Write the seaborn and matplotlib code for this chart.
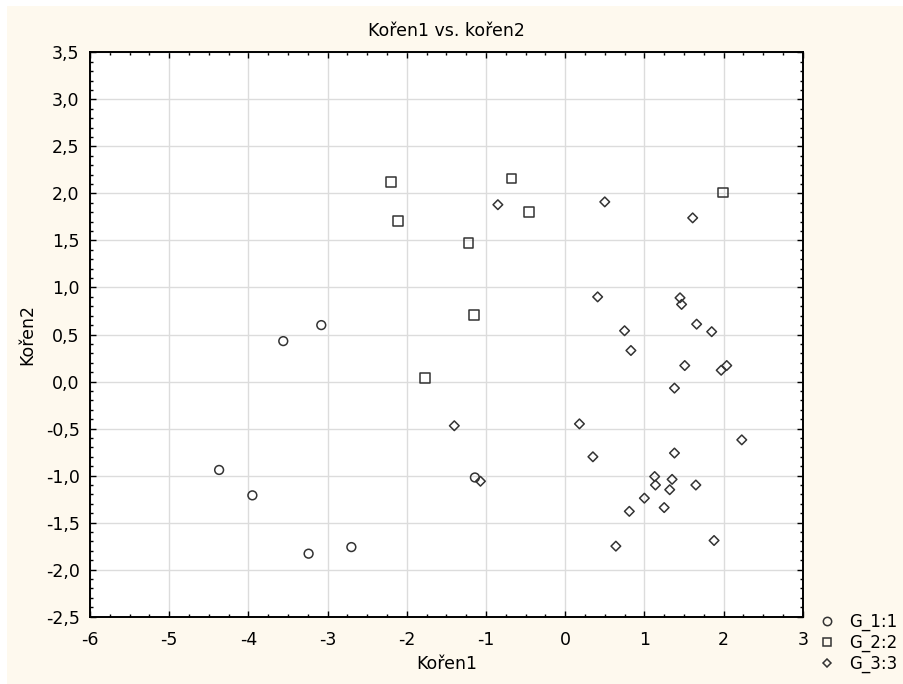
import numpy as np
import pandas as pd
import matplotlib
matplotlib.use('Agg')
import matplotlib.pyplot as plt
from matplotlib.patches import Rectangle
from matplotlib.ticker import MultipleLocator, FuncFormatter
import seaborn as sns

# data (Koren1, Koren2 per group)
g1_x = [-3.56, -3.08, -4.37, -3.95, -3.24, -2.70, -1.14]
g1_y = [0.43, 0.60, -0.94, -1.21, -1.83, -1.76, -1.02]

g2_x = [-2.20, -2.11, -0.68, -0.46, -1.22, -1.15, -1.77, 1.99]
g2_y = [2.12, 1.71, 2.16, 1.80, 1.47, 0.71, 0.04, 2.01]

g3_x = [-0.85, 0.50, 1.61, 0.41, 1.45, 1.47, 1.66, 1.85, 0.75, 0.83, 1.51, 2.04, 1.97,
        1.38, 0.18, 2.23, 0.35, 1.38, 1.13, 1.35, 1.14, 1.32, 1.65, 1.00, 1.25, 0.81,
        1.88, 0.64, -1.40, -1.07]
g3_y = [1.88, 1.91, 1.74, 0.90, 0.89, 0.82, 0.61, 0.53, 0.54, 0.33, 0.17, 0.17, 0.12,
        -0.07, -0.45, -0.62, -0.80, -0.76, -1.01, -1.04, -1.10, -1.15, -1.10, -1.24, -1.34, -1.38,
        -1.69, -1.75, -0.47, -1.06]

groups = ['G_1:1', 'G_2:2', 'G_3:3']

df = pd.concat([
    pd.DataFrame({'Kořen1': g1_x, 'Kořen2': g1_y, 'group': groups[0]}),
    pd.DataFrame({'Kořen1': g2_x, 'Kořen2': g2_y, 'group': groups[1]}),
    pd.DataFrame({'Kořen1': g3_x, 'Kořen2': g3_y, 'group': groups[2]}),
])

sns.set_style('white')
plt.rcParams['font.family'] = ['DejaVu Sans']
plt.rcParams['text.color'] = 'black'
plt.rcParams['axes.labelcolor'] = 'black'
plt.rcParams['xtick.color'] = 'black'
plt.rcParams['ytick.color'] = 'black'
fs = 12.5

bg = '#FEF9EE'
fig = plt.figure(figsize = (9.04, 6.84), dpi = 100, facecolor = 'white')
# cream window background, thin white strip on top and left
fig.patches.append(Rectangle((7 / 904, 0), 1, 1 - 6 / 684, transform = fig.transFigure,
                             facecolor = bg, edgecolor = 'none', zorder = -10))
ax = fig.add_axes([0.0996, 0.0984, 0.7884, 0.8251])
ax.set_facecolor('white')

# marker styles / sizes per group
mk = {'G_1:1': 'o', 'G_2:2': 's', 'G_3:3': 'D'}
msize = {'G_1:1': 40, 'G_2:2': 48, 'G_3:3': 24}
for g in groups:
    sns.scatterplot(
        data = df[df['group'] == g], x = 'Kořen1', y = 'Kořen2', marker = mk[g],
        color = 'none', edgecolor = '#333333', linewidth = 1.1, s = msize[g],
        legend = False, ax = ax, zorder = 3)

ax.set_xlim(-6, 3)
ax.set_ylim(-2.5, 3.5)
ax.xaxis.set_major_locator(MultipleLocator(1))
ax.xaxis.set_minor_locator(MultipleLocator(0.25))
ax.yaxis.set_major_locator(MultipleLocator(0.5))
ax.yaxis.set_minor_locator(MultipleLocator(0.1))
ax.yaxis.set_major_formatter(FuncFormatter(lambda v, p: f'{v:.1f}'.replace('.', ',')))
ax.xaxis.set_major_formatter(FuncFormatter(lambda v, p: f'{v:g}'))

ax.grid(True, which = 'major', color = '#dcdcdc', linewidth = 1, zorder = 0)
ax.tick_params(which = 'both', direction = 'in', top = True, right = True,
               bottom = True, left = True, color = 'black', labelsize = fs)
ax.tick_params(which = 'major', length = 4, width = 1)
ax.tick_params(which = 'minor', length = 2.5, width = 1)
ax.tick_params(axis = 'x', which = 'major', pad = 10.5)
ax.tick_params(axis = 'y', which = 'major', pad = 7.5)
for sp in ax.spines.values():
    sp.set_color('black')
    sp.set_linewidth(1.4)

ax.set_xlabel('Kořen1', fontsize = fs, labelpad = 4)
ax.set_ylabel('Kořen2', fontsize = fs, labelpad = 7)
ax.set_title('Kořen1 vs. kořen2', fontsize = fs, pad = 11.5)

# legend outside lower right
lsize = {'G_1:1': 6, 'G_2:2': 5.8, 'G_3:3': 3.9}
handles = [plt.Line2D([], [], linestyle = 'none', marker = mk[g], markersize = lsize[g],
                      markerfacecolor = 'none', markeredgecolor = '#333333', markeredgewidth = 1.1)
           for g in groups]
fig.legend(handles, groups, loc = 'upper left', bbox_to_anchor = (0.895, 0.116), frameon = False,
           fontsize = 12, handletextpad = 0.7, handlelength = 1.2, labelspacing = 0.15, borderpad = 0)

fig.savefig('out.png', dpi = 100, facecolor = 'white')
